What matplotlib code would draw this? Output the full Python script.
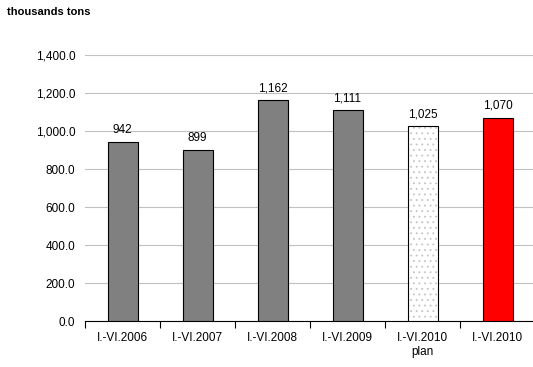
import matplotlib.pyplot as plt
from matplotlib.ticker import FuncFormatter

categories = ["I.-VI.2006", "I.-VI.2007", "I.-VI.2008", "I.-VI.2009", "I.-VI.2010\nplan", "I.-VI.2010"]
values = [942, 899, 1162, 1111, 1025, 1070]

plt.rcParams['font.family'] = ['Liberation Sans', 'DejaVu Sans']
plt.rcParams['hatch.linewidth'] = 0.6

fig = plt.figure(figsize=(5.33, 3.67), dpi=100)
ax = fig.add_axes([85 / 533, 1 - 321 / 367, 450 / 533, 266 / 367])

x = list(range(len(values)))
face = ["#808080"] * 4 + ["white", "#ff0000"]

# dotted fill for the plan bar, outline drawn on top
ax.bar(x[4], values[4], width=0.4, color="white", edgecolor="#c4c4c4",
       hatch="...", linewidth=0, zorder=3)
face[4] = "none"
ax.bar(x, values, width=0.4, color=face, edgecolor="black", linewidth=0.8, zorder=4)

for xi, v in zip(x, values):
    ax.text(xi, v + 30, f"{v:,}", ha="center", va="bottom", fontsize=8.5)

ax.set_xlim(-0.5, len(values) - 0.5)
ax.set_ylim(0, 1400)
ax.set_yticks(range(0, 1401, 200))
ax.yaxis.set_major_formatter(FuncFormatter(lambda v, p: f"{v:,.1f}"))
ax.yaxis.grid(True, color="#c0c0c0", linewidth=0.8, zorder=0)
ax.tick_params(axis="y", length=0, labelsize=8.5, pad=7)

ax.set_xticks([i + 0.5 for i in range(-1, len(values))], minor=False)
ax.set_xticklabels([])
ax.set_xticks(x, minor=True)
ax.set_xticklabels(categories, minor=True, fontsize=8.5)
ax.tick_params(axis="x", which="major", length=5, direction="out", color="black")
ax.tick_params(axis="x", which="minor", length=0, pad=8)

for s in ["top", "right", "left"]:
    ax.spines[s].set_visible(False)
ax.spines["bottom"].set_color("black")

fig.text(7 / 533, 1 - 12 / 367, "thousands tons", fontsize=8, fontweight="bold", va="center")

fig.savefig("out.png", dpi=100)
